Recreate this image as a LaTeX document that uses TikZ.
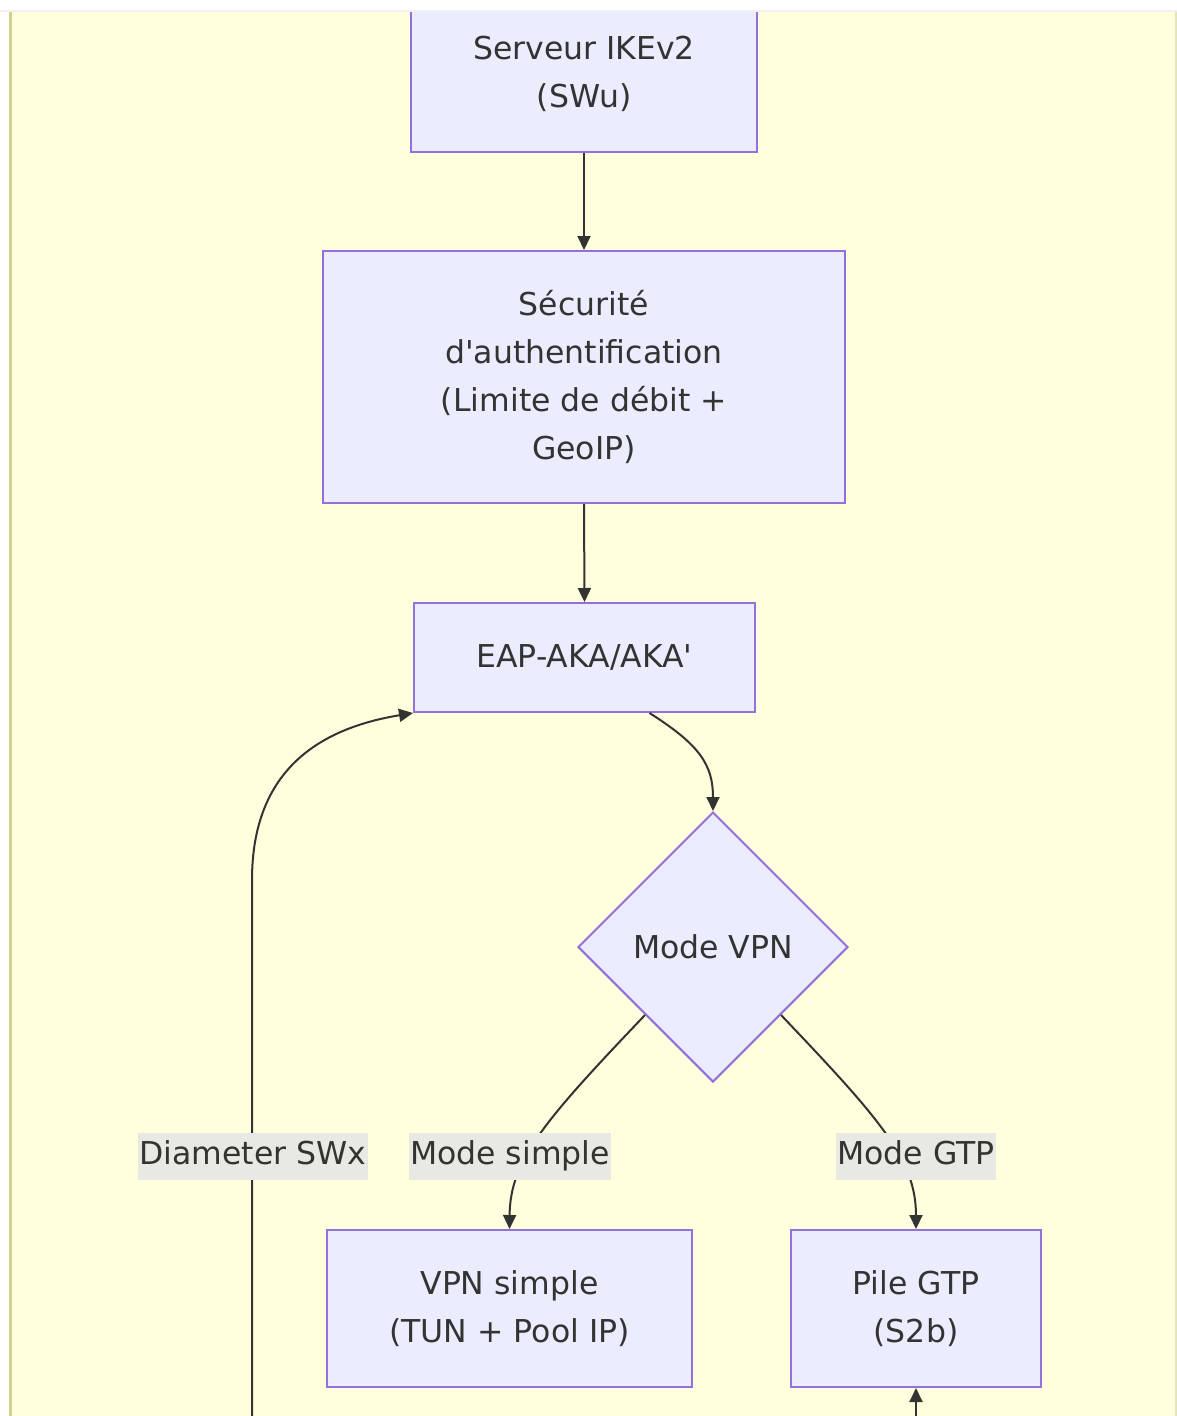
\documentclass[tikz,border=0pt]{standalone}
\usepackage{fontspec}
\setmainfont{DejaVu Sans}
\usetikzlibrary{arrows.meta,shapes.geometric}
\definecolor{nodefill}{HTML}{ECECFF}
\definecolor{nodeline}{HTML}{9370DB}
\definecolor{clusterfill}{HTML}{FFFFDE}
\definecolor{clusterline}{HTML}{D2D28C}
\definecolor{ink}{HTML}{333333}
\definecolor{labelbg}{HTML}{E9E9E3}
\begin{document}
\begin{tikzpicture}[x=1pt,y=-1pt,
  every node/.style={font=\fontsize{31.5}{48}\selectfont, text=ink},
  box/.style={draw=nodeline, fill=nodefill, line width=2pt, align=center, inner sep=0pt},
  decision/.style={box, diamond, minimum width=270pt, minimum height=270pt, aspect=1},
  flow/.style={draw=ink, line width=2pt, -{Triangle[length=14pt,width=13pt]}},
  edgelabel/.style={fill=labelbg, inner xsep=1.5pt, inner ysep=0pt, minimum height=47pt,
    text height=23pt, text depth=7pt}]
\useasboundingbox (0,0) rectangle (1177,1416);
\clip (0,0) rectangle (1177,1416);

% cluster background
\fill[clusterfill] (10,11) rectangle (1177,1450);
\draw[clusterline, line width=3pt] (10,11) -- (10,1450);
\draw[clusterline!60, line width=1.5pt] (1176,11) -- (1176,1450);

% nodes
\node[box, minimum width=346pt, minimum height=156pt] (ike) at (584,74) {Serveur IKEv2\\(SWu)};
\node[box, minimum width=522pt, minimum height=252pt] (sec) at (584,377)
  {Sécurité\\d\textquotesingle authentification\\(Limite de débit +\\GeoIP)};
\node[box, minimum width=341pt, minimum height=109pt] (eap) at (584.5,657.5) {EAP-AKA/AKA\textquotesingle};
\node[decision] (mode) at (713,947) {Mode VPN};
\node[box, minimum width=365pt, minimum height=157pt] (vpn) at (509.5,1308.5) {VPN simple\\(TUN + Pool IP)};
\node[box, minimum width=250pt, minimum height=157pt] (gtp) at (916,1308.5) {Pile GTP\\(S2b)};

% loose ends below the visible area
\coordinate (swxin) at (252,1440);
\coordinate (gtpin) at (916,1440);

% connectors
\draw[flow] (ike.south) -- (sec.north);
\draw[flow] (sec.south) -- (eap.north);
\draw[flow] ([xshift=65pt]eap.south) .. controls (700,745) and (713,765) .. (mode.north);
\draw[flow] (mode.south west) .. controls (545,1120) and (510,1160) .. (vpn.north);
\draw[flow] (mode.south east) .. controls (881,1120) and (916,1160) .. (gtp.north);
\draw[flow] (swxin) -- (252,880) .. controls (252,768) and (322,728) .. (eap.south west);
\draw[flow] (gtpin) -- (gtp.south);

% edge labels
\node[edgelabel] (lswx) at (253,1156.5) {Diameter SWx};
\node[edgelabel] (lsimple) at (510,1156.5) {Mode simple};
\node[edgelabel] (lgtp) at (916,1156.5) {Mode GTP};

% page strip above the cluster
\fill[white] (0,0) rectangle (1177,10);
\fill[black!6] (0,10) rectangle (1177,12);
\end{tikzpicture}
\end{document}
